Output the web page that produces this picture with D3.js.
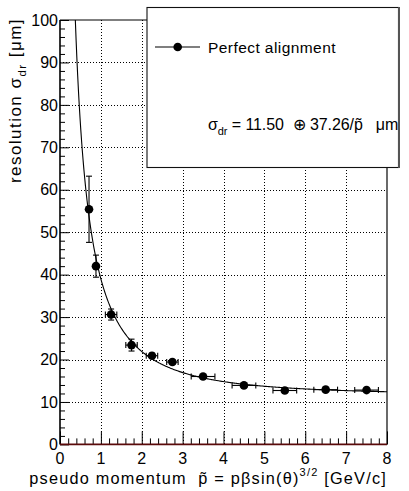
<!DOCTYPE html>
<html>
<head>
<meta charset="utf-8">
<script src="https://cdn.jsdelivr.net/npm/d3@7"></script>
<style>
  html, body { margin: 0; padding: 0; background: #fff; }
  svg { display: block; }
  text { font-family: "Liberation Sans", Arial, Helvetica, sans-serif; fill: #000; white-space: pre; }
</style>
</head>
<body>
<script>
// ---- data ----
const pValues   = [0.71, 0.88, 1.25, 1.75, 2.25, 2.75, 3.5, 4.5, 5.5, 6.5, 7.5];
const sigmaVals = [55.4, 42.0, 30.6, 23.4, 20.9, 19.4, 16.0, 13.9, 12.7, 12.9, 12.8];
const pErrors   = [0.05, 0.06, 0.14, 0.14, 0.14, 0.14, 0.29, 0.29, 0.29, 0.29, 0.29];
const sigmaErrs = [7.8, 2.6, 1.3, 1.4, 0.6, 0.5, 0.4, 0.3, 0.3, 0.3, 0.3];
const xTicks = [0, 1, 2, 3, 4, 5, 6, 7, 8];
const yTicks = [0, 10, 20, 30, 40, 50, 60, 70, 80, 90, 100];
const fitConst = 11.50;   // sigma_dr = a (+) b/p
const fitSlope = 37.26;
const legendLabel = "Perfect alignment";

const W = 409, H = 491;
const L = 60, R = 387, T = 20, B = 444.4;

const svg = d3.select("body").append("svg").attr("width", W).attr("height", H);
const x = d3.scaleLinear().domain([0, 8]).range([L, R]);
const y = d3.scaleLinear().domain([0, 100]).range([B, T]);

// grid
const grid = svg.append("g").attr("stroke", "#000").attr("stroke-width", 1).attr("stroke-dasharray", "1,2");
grid.selectAll("line.gx").data(xTicks.slice(1, -1)).join("line")
  .attr("x1", d => Math.round(x(d)) + 0.5).attr("x2", d => Math.round(x(d)) + 0.5)
  .attr("y1", T).attr("y2", B);
grid.selectAll("line.gy").data(yTicks.slice(1, -1)).join("line")
  .attr("y1", d => Math.round(y(d)) + 0.5).attr("y2", d => Math.round(y(d)) + 0.5)
  .attr("x1", L).attr("x2", R);

// frame
svg.append("line").attr("x1", L).attr("x2", R).attr("y1", T).attr("y2", T).attr("stroke", "#000").attr("stroke-width", 1.2);
svg.append("line").attr("x1", R).attr("x2", R).attr("y1", T).attr("y2", B).attr("stroke", "#444").attr("stroke-width", 1.6);

// y axis (ticks inside)
const yAxis = d3.axisRight(y).tickValues(yTicks).tickSize(9).tickFormat("");
const gy = svg.append("g").attr("transform", `translate(${L},0)`).call(yAxis);
gy.select(".domain").remove();
gy.selectAll(".tick line").attr("stroke", "#000");
const yMinor = d3.range(0, 100.001, 2).filter(v => v % 10 !== 0);
const gyMinor = svg.append("g").attr("transform", `translate(${L},0)`).call(d3.axisRight(y).tickValues(yMinor).tickSize(5).tickFormat(""));
gyMinor.select(".domain").remove();
svg.append("line").attr("x1", L).attr("x2", L).attr("y1", T).attr("y2", B).attr("stroke", "#000").attr("stroke-width", 1.6);

// x axis (ticks inside)
const gx = svg.append("g").attr("transform", `translate(0,${B})`).call(d3.axisTop(x).tickValues(xTicks).tickSize(13).tickFormat(""));
gx.select(".domain").remove();
const xMinor = d3.range(0, 8.001, 0.2).filter(v => Math.abs(v - Math.round(v)) > 1e-6);
const gxMinor = svg.append("g").attr("transform", `translate(0,${B})`).call(d3.axisTop(x).tickValues(xMinor).tickSize(6).tickFormat(""));
gxMinor.select(".domain").remove();
svg.append("line").attr("x1", L).attr("x2", R).attr("y1", B).attr("y2", B).attr("stroke", "#5a0a0a").attr("stroke-width", 1.8);

// tick labels
svg.append("g").selectAll("text").data(yTicks).join("text")
  .attr("x", L - 2).attr("y", d => y(d) + 5.7).attr("text-anchor", "end")
  .attr("font-size", 16).text(d => d);
svg.append("g").selectAll("text").data(xTicks).join("text")
  .attr("x", d => x(d)).attr("y", 464).attr("text-anchor", "middle")
  .attr("font-size", 16).text(d => d);

// helper: stretch text to a measured width via letter-spacing
function fitWidth(sel, target) {
  const node = sel.node();
  const w = node.getComputedTextLength();
  const n = node.textContent.length;
  sel.attr("letter-spacing", ((target - w) / n).toFixed(2));
}

// axis titles
const xt = svg.append("text").attr("x", R).attr("y", 484).attr("text-anchor", "end").attr("font-size", 16.3);
xt.append("tspan").text("pseudo momentum  p\u0303 = p\u03B2sin(\u03B8)");
xt.append("tspan").attr("dy", -8).attr("font-size", 11).text("3/2");
xt.append("tspan").attr("dy", 8).text(" [GeV/c]");
fitWidth(xt, 359);

const yt = svg.append("text").attr("transform", `translate(21,${T - 2}) rotate(-90)`).attr("text-anchor", "end").attr("font-size", 17);
yt.append("tspan").text("resolution \u03C3");
yt.append("tspan").attr("dy", 5).attr("font-size", 11.5).text("dr");
yt.append("tspan").attr("dy", -5).text(" [\u03BCm]");
fitWidth(yt, 165);

// fit curve
const pStart = fitSlope / Math.sqrt(100 * 100 - fitConst * fitConst);
const curvePts = d3.range(0, 401).map(i => pStart + (8 - pStart) * i / 400)
  .map(p => [p, Math.sqrt(fitConst * fitConst + (fitSlope / p) * (fitSlope / p))]);
svg.append("path").datum(curvePts)
  .attr("d", d3.line().x(d => x(d[0])).y(d => y(d[1])))
  .attr("fill", "none").attr("stroke", "#000").attr("stroke-width", 1.1);

// data points with error bars
const pts = pValues.map((p, i) => ({p, s: sigmaVals[i], ep: pErrors[i], es: sigmaErrs[i]}));
const eb = svg.append("g").attr("stroke", "#000").attr("stroke-width", 1.1).attr("fill", "none");
const cap = 3;
pts.forEach(d => {
  const cx = x(d.p), cy = y(d.s);
  const x0 = x(d.p - d.ep), x1 = x(d.p + d.ep), y0 = y(d.s - d.es), y1 = y(d.s + d.es);
  eb.append("line").attr("x1", x0).attr("x2", x1).attr("y1", cy).attr("y2", cy);
  eb.append("line").attr("x1", x0).attr("x2", x0).attr("y1", cy - cap).attr("y2", cy + cap);
  eb.append("line").attr("x1", x1).attr("x2", x1).attr("y1", cy - cap).attr("y2", cy + cap);
  eb.append("line").attr("x1", cx).attr("x2", cx).attr("y1", y0).attr("y2", y1);
  eb.append("line").attr("x1", cx - cap).attr("x2", cx + cap).attr("y1", y0).attr("y2", y0);
  eb.append("line").attr("x1", cx - cap).attr("x2", cx + cap).attr("y1", y1).attr("y2", y1);
});
svg.append("g").selectAll("circle").data(pts).join("circle")
  .attr("cx", d => x(d.p)).attr("cy", d => y(d.s)).attr("r", 4.3).attr("fill", "#000");

// legend box
const lg = svg.append("g");
lg.append("rect").attr("x", 147).attr("y", 7.5).attr("width", 251.5).attr("height", 160)
  .attr("fill", "#fff").attr("stroke", "#111").attr("stroke-width", 1.1);
lg.append("line").attr("x1", 399).attr("x2", 399).attr("y1", 7).attr("y2", 168).attr("stroke", "#555").attr("stroke-width", 2);
lg.append("line").attr("x1", 155).attr("x2", 200).attr("y1", 47).attr("y2", 47).attr("stroke", "#000").attr("stroke-width", 1.1);
lg.append("circle").attr("cx", 177.7).attr("cy", 47).attr("r", 4.3).attr("fill", "#000");
const lt = lg.append("text").attr("x", 208).attr("y", 53.3).attr("font-size", 15.5).text(legendLabel);
fitWidth(lt, 128);

const ft = lg.append("text").attr("x", 208).attr("y", 130).attr("font-size", 16);
ft.append("tspan").text("\u03C3");
ft.append("tspan").attr("dy", 5).attr("font-size", 11).text("dr");
ft.append("tspan").attr("dy", -5).text(` = ${fitConst.toFixed(2)}  \u2295 ${fitSlope.toFixed(2)}/p\u0303   \u03BCm`);
fitWidth(ft, 190);
</script>
</body>
</html>
